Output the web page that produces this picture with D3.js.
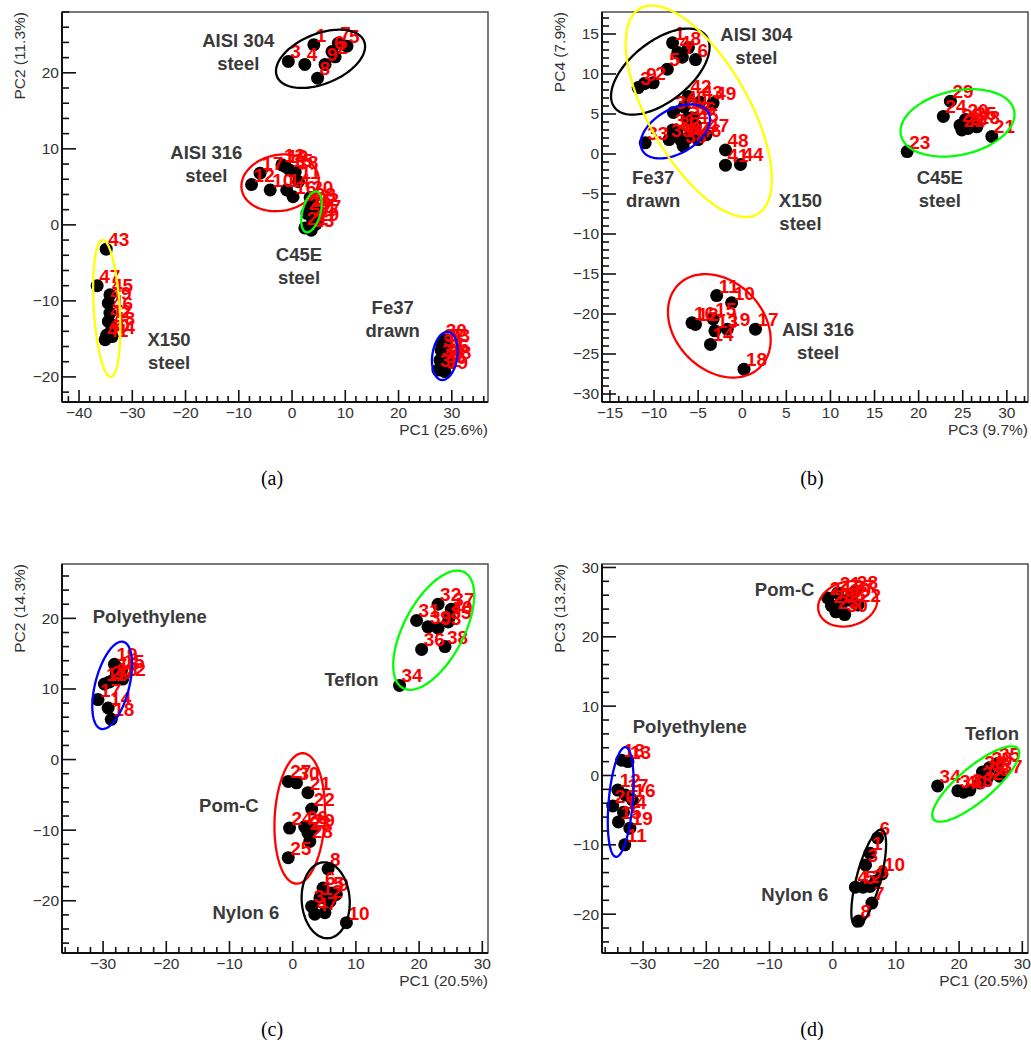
<!DOCTYPE html>
<html lang="en">
<head>
<meta charset="UTF-8">
<title>PCA score plots</title>
<script src="https://d3js.org/d3.v7.min.js"></script>
<style>
  body { margin: 0; background: #fff; }
  svg { display: block; }
  .tick-label { font: 15.5px "Liberation Sans", Arial, sans-serif; fill: #333; }
  .axis-title { font: 15.5px "Liberation Sans", Arial, sans-serif; fill: #333; }
  .group-name { font: bold 18.5px "Liberation Sans", Arial, sans-serif; fill: #3a3a3a; }
  .pt-label { font: bold 19px "Liberation Sans", Arial, sans-serif; fill: #ff0000; }
  .sub-label { font: 20px "Liberation Serif", "DejaVu Serif", serif; fill: #000; }
</style>
</head>
<body>
<div id="chart"></div>
<script>
// points are [x, y, sample number]

// (a) PC1 vs PC2, steels
const a_aisi304 = [[-0.7,21.5,"3"],[2.4,21.1,"4"],[4.1,23.7,"1"],[4.8,19.3,"8"],[6.2,21.1,"9"],[8.1,22.1,"2"],[8.7,23.9,"7"],[10.3,23.5,"5"],[7.5,22.8,"6"]];
const a_aisi316 = [[-7.6,5.3,"12"],[-6.0,6.8,"17"],[-4.1,4.6,"10"],[-1.9,7.9,"13"],[-1.3,7.7,"19"],[-0.4,7.2,"15"],[0.6,7.0,"18"],[-1.0,4.6,"14"],[0.2,3.7,"16"],[1.2,5.7,"11"]];
const a_c45e = [[3.4,3.6,"20"],[3.9,2.8,"28"],[4.5,2.1,"22"],[2.8,1.5,"26"],[3.8,0.8,"24"],[4.5,0.1,"29"],[2.4,-0.4,"21"],[3.2,2.0,"25"],[4.9,1.2,"27"],[3.6,-0.7,"23"]];
const a_x150 = [[-34.9,-3.2,"43"],[-36.6,-8.0,"47"],[-34.2,-9.2,"45"],[-34.5,-10.3,"49"],[-34.2,-11.6,"46"],[-34.5,-12.7,"42"],[-33.8,-13.6,"48"],[-34.8,-14.5,"40"],[-35.1,-15.1,"41"],[-33.8,-14.7,"44"]];
const a_fe37 = [[28.5,-15.1,"30"],[29.1,-15.8,"33"],[28.0,-16.5,"31"],[28.9,-17.1,"36"],[27.8,-17.8,"34"],[29.3,-18.0,"38"],[28.3,-18.6,"35"],[27.4,-19.1,"32"],[28.7,-19.3,"39"],[28.1,-15.8,"37"]];

// (b) PC3 vs PC4, steels
const b_aisi304 = [[-11.8,8.3,"3"],[-11.1,8.8,"9"],[-10.1,8.9,"2"],[-8.5,10.6,"5"],[-7.9,13.9,"1"],[-7.3,12.7,"4"],[-6.8,12.1,"7"],[-5.3,11.8,"6"],[-6.1,13.3,"8"]];
const b_aisi316 = [[-2.9,-17.7,"11"],[-1.2,-18.6,"10"],[-5.7,-21.1,"16"],[-5.3,-21.3,"12"],[-3.3,-20.6,"15"],[-3.1,-22.1,"13"],[-1.7,-21.9,"19"],[-3.6,-23.8,"14"],[1.5,-21.9,"17"],[0.2,-26.9,"18"]];
const b_c45e = [[18.7,0.3,"23"],[22.8,4.7,"24"],[23.6,6.6,"29"],[24.7,3.6,"26"],[25.3,4.3,"20"],[25.6,3.2,"27"],[26.2,3.9,"25"],[24.9,3.0,"22"],[28.3,2.2,"21"],[26.6,3.4,"28"]];
const b_x150 = [[-6.6,5.9,"40"],[-1.9,-1.4,"41"],[-6.1,7.2,"42"],[-4.8,6.5,"43"],[-0.2,-1.3,"44"],[-5.3,3.6,"45"],[-5.0,1.8,"46"],[-4.1,2.4,"47"],[-1.9,0.5,"48"],[-3.3,6.4,"49"]];
const b_fe37 = [[-7.8,5.2,"30"],[-7.9,3.0,"31"],[-7.4,2.6,"32"],[-11.0,1.4,"33"],[-7.0,1.8,"34"],[-6.2,4.5,"35"],[-5.6,4.5,"36"],[-6.2,2.0,"37"],[-6.7,1.0,"38"],[-8.3,1.8,"39"]];

// (c) PC1 vs PC2, polymers
const c_nylon = [[5.6,-15.5,"8"],[4.8,-18.2,"6"],[6.1,-18.9,"5"],[6.9,-19.1,"9"],[5.9,-20.1,"2"],[3.0,-20.8,"3"],[3.5,-21.9,"4"],[5.1,-21.7,"7"],[8.5,-23.1,"10"],[4.3,-19.6,"1"]];
const c_poly = [[-30.8,8.5,"17"],[-29.2,7.3,"14"],[-28.7,5.7,"18"],[-29.8,10.7,"11"],[-29.0,11.0,"20"],[-28.2,13.5,"19"],[-27.9,12.3,"16"],[-27.1,12.6,"15"],[-28.2,11.4,"13"],[-26.9,11.4,"12"]];
const c_pomc = [[-0.7,-3.1,"27"],[0.6,-3.3,"30"],[2.4,-4.7,"21"],[3.0,-7.0,"22"],[-0.5,-9.7,"24"],[1.9,-9.5,"26"],[2.4,-10.4,"23"],[2.7,-11.6,"28"],[-0.7,-13.9,"25"],[3.0,-10.0,"29"]];
const c_teflon = [[16.9,10.5,"34"],[20.4,15.6,"36"],[19.6,19.7,"31"],[21.4,18.8,"39"],[23.0,18.6,"33"],[23.0,22.0,"32"],[24.1,16.0,"38"],[24.6,19.5,"35"],[25.1,21.3,"37"],[24.8,20.2,"40"]];

// (d) PC1 vs PC3, polymers
const d_nylon = [[7.1,-9.0,"6"],[5.9,-11.2,"1"],[5.2,-12.9,"3"],[7.8,-14.2,"10"],[3.6,-16.1,"4"],[4.8,-16.1,"5"],[5.9,-16.0,"2"],[6.8,-15.2,"9"],[6.2,-18.4,"7"],[4.1,-21.0,"8"]];
const d_poly = [[-33.4,2.2,"18"],[-32.4,2.0,"13"],[-34.0,-2.1,"12"],[-32.8,-2.8,"17"],[-31.7,-3.5,"16"],[-34.8,-4.4,"20"],[-33.1,-5.3,"14"],[-32.1,-7.6,"19"],[-32.9,-10.0,"11"],[-33.9,-6.7,"15"]];
const d_pomc = [[-0.8,25.6,"24"],[-0.2,24.5,"25"],[0.5,23.6,"23"],[1.4,24.8,"26"],[2.4,25.3,"29"],[3.0,25.9,"27"],[3.5,26.5,"28"],[1.9,23.2,"30"],[4.0,24.6,"22"],[0.8,26.3,"21"]];
const d_teflon = [[16.6,-1.5,"34"],[19.8,-2.2,"31"],[20.7,-2.4,"40"],[21.7,-2.1,"33"],[23.7,0.5,"36"],[24.4,-0.5,"38"],[24.8,1.1,"39"],[26.0,1.7,"35"],[26.4,-0.1,"37"],[23.3,-1.1,"32"]];

// confidence ellipses: [group, cx, cy, ux, uy, vx, vy] (centre + two conjugate half-axes)
const a_rings = [["AISI 304",5.35,21.84,8.18,2.32,1.76,-3.05],["AISI 316",-2.25,5.53,7.2,0.89,0.91,-3.63],["C45E",3.66,1.71,1.02,2.67,1.63,-0.31],["X150",-34.8,-10.99,-0.75,9.01,2.44,0],["Fe37",28.7,-17.24,0.66,3.16,2.33,-0.24]];
const b_rings = [["AISI 304",-9.29,10.3,5.18,4.49,2.09,-2.97],["Fe37",-7.59,2.83,3.73,2.39,1.25,-2.39],["X150",-4.93,5.34,6.68,-12.84,-4.9,-3.14],["C45E",24.41,3.89,6.42,1.52,0.75,-3.93],["AISI 316",-2.6,-21.48,4.64,-5.15,-3.52,-3.91]];
const c_rings = [["Polyethylene",-28.56,10.51,1.76,6.16,2.61,-0.57],["Teflon",22.31,18.32,4.81,8.23,4.23,-1.88],["Pom-C",1.11,-8.34,0.55,9.24,3.96,-0.18],["Nylon 6",5.22,-19.93,-0.24,5.38,3.8,0]];
const d_rings = [["Pom-C",2.37,24.75,4.59,1.13,0.9,-3.07],["Polyethylene",-33.54,-3.82,0.76,7.91,1.9,-0.15],["Teflon",22.63,-1.23,6.66,5.1,1.73,-1.88],["Nylon 6",5.7,-14.79,2.04,6.97,1.84,-0.45]];

// tick labels
const a_xTicks = [-40,-30,-20,-10,0,10,20,30], a_yTicks = [-20,-10,0,10,20];
const b_xTicks = [-15,-10,-5,0,5,10,15,20,25,30], b_yTicks = [-30,-25,-20,-15,-10,-5,0,5,10,15];
const c_xTicks = [-30,-20,-10,0,10,20,30], c_yTicks = [-20,-10,0,10,20];
const d_xTicks = [-30,-20,-10,0,10,20,30], d_yTicks = [-20,-10,0,10,20,30];

const ringColor = {"AISI 304":"#000","AISI 316":"#ff0000","C45E":"#00ff00","X150":"#ffff00","Fe37":"#0000ff",
  "Polyethylene":"#0000ff","Teflon":"#00ff00","Pom-C":"#ff0000","Nylon 6":"#000"};

const panels = [
  {sub:"(a)", box:[62,12,488,402], xDom:[-43.2,36.8], yDom:[-23.3,28.0], xStep:[10,2], yStep:[10,2],
   xTicks:a_xTicks, yTicks:a_yTicks, xTitle:"PC1 (25.6%)", yTitle:"PC2 (11.3%)",
   groups:[a_aisi304,a_aisi316,a_c45e,a_x150,a_fe37], rings:a_rings,
   names:[["AISI 304","steel",-10.1,24.3],["AISI 316","steel",-16.1,9.5],["C45E","steel",1.3,-3.9],["X150","steel",-23.1,-15.1],["Fe37","drawn",18.9,-10.9]]},
  {sub:"(b)", box:[602,12,1028,402], xDom:[-15.9,32.4], yDom:[-31,17.75], xStep:[5,1], yStep:[5,1],
   xTicks:b_xTicks, yTicks:b_yTicks, xTitle:"PC3 (9.7%)", yTitle:"PC4 (7.9%)",
   groups:[b_aisi304,b_aisi316,b_c45e,b_x150,b_fe37], rings:b_rings,
   names:[["AISI 304","steel",1.6,14.9],["Fe37","drawn",-10.1,-2.9],["X150","steel",6.6,-5.8],["C45E","steel",22.4,-2.9],["AISI 316","steel",8.6,-21.9]]},
  {sub:"(c)", box:[62,564,488,953], xDom:[-36.5,30.9], yDom:[-27.4,27.7], xStep:[10,2], yStep:[10,2],
   xTicks:c_xTicks, yTicks:c_yTicks, xTitle:"PC1 (20.5%)", yTitle:"PC2 (14.3%)",
   groups:[c_nylon,c_poly,c_pomc,c_teflon], rings:c_rings,
   names:[["Polyethylene",null,-22.6,20.2],["Teflon",null,9.3,11.4],["Pom-C",null,-10.1,-6.55],["Nylon 6",null,-7.4,-21.7]]},
  {sub:"(d)", box:[602,564,1028,953], xDom:[-36.5,30.9], yDom:[-25.6,30.5], xStep:[10,2], yStep:[10,2],
   xTicks:d_xTicks, yTicks:d_yTicks, xTitle:"PC1 (20.5%)", yTitle:"PC3 (13.2%)",
   groups:[d_nylon,d_poly,d_pomc,d_teflon], rings:d_rings,
   names:[["Pom-C",null,-7.6,26.8],["Polyethylene",null,-22.6,7.1],["Teflon",null,25.2,6.1],["Nylon 6",null,-6.0,-17.2]]}
];

const W = 1031, H = 1040;
const svg = d3.select("#chart").append("svg").attr("width", W).attr("height", H);
const minus = v => String(v).replace("-", "\u2212");

function stepsIn(dom, step) {
  const out = [];
  for (let v = Math.ceil(dom[0] / step) * step; v <= dom[1] + 1e-9; v += step) out.push(+v.toFixed(6));
  return out;
}

panels.forEach(p => {
  const [x0, y0, x1, y1] = p.box;
  const sx = d3.scaleLinear().domain(p.xDom).range([x0, x1]);
  const sy = d3.scaleLinear().domain(p.yDom).range([y1, y0]);
  const g = svg.append("g");

  // frame
  g.append("rect").attr("x", x0).attr("y", y0).attr("width", x1 - x0).attr("height", y1 - y0)
    .attr("fill", "none").attr("stroke", "#333").attr("stroke-width", 1.3);
  g.append("line").attr("x1", x0).attr("x2", x0).attr("y1", y0).attr("y2", y1).attr("stroke", "#111").attr("stroke-width", 2);
  g.append("line").attr("x1", x0).attr("x2", x1).attr("y1", y1).attr("y2", y1).attr("stroke", "#111").attr("stroke-width", 2);

  // ticks (ROOT style, inside the frame)
  const xMaj = stepsIn(p.xDom, p.xStep[0]);
  const xMin = stepsIn(p.xDom, p.xStep[1]).filter(v => !xMaj.includes(v));
  const yMaj = stepsIn(p.yDom, p.yStep[0]);
  const yMin = stepsIn(p.yDom, p.yStep[1]).filter(v => !yMaj.includes(v));
  const tk = g.append("g").attr("stroke", "#111").attr("stroke-width", 1.6);
  xMaj.forEach(v => tk.append("line").attr("x1", sx(v)).attr("x2", sx(v)).attr("y1", y1).attr("y2", y1 - 12));
  xMin.forEach(v => tk.append("line").attr("x1", sx(v)).attr("x2", sx(v)).attr("y1", y1).attr("y2", y1 - 6));
  yMaj.forEach(v => tk.append("line").attr("y1", sy(v)).attr("y2", sy(v)).attr("x1", x0).attr("x2", x0 + 14));
  yMin.forEach(v => tk.append("line").attr("y1", sy(v)).attr("y2", sy(v)).attr("x1", x0).attr("x2", x0 + 7));

  g.selectAll(".xl").data(p.xTicks).enter().append("text").attr("class", "tick-label")
    .attr("x", d => sx(d)).attr("y", y1 + 16).attr("text-anchor", "middle").text(minus);
  g.selectAll(".yl").data(p.yTicks).enter().append("text").attr("class", "tick-label")
    .attr("x", x0 - 3).attr("y", d => sy(d)).attr("dy", "0.35em").attr("text-anchor", "end").text(minus);

  g.append("text").attr("class", "axis-title").attr("x", x1).attr("y", y1 + 33)
    .attr("text-anchor", "end").text(p.xTitle);
  g.append("text").attr("class", "axis-title").attr("text-anchor", "end")
    .attr("transform", `translate(${x0 - 42},${y0}) rotate(-90)`).attr("dy", "0.35em").text(p.yTitle);

  // points, then sample numbers
  const pts = p.groups.flat();
  g.selectAll(".pt").data(pts).enter().append("circle")
    .attr("cx", d => sx(d[0])).attr("cy", d => sy(d[1])).attr("r", 6.5).attr("fill", "#000");
  g.selectAll(".pl").data(pts).enter().append("text").attr("class", "pt-label")
    .attr("x", d => sx(d[0]) + 2).attr("y", d => sy(d[1]) - 3).text(d => d[2]);

  // confidence ellipses
  const line = d3.line().curve(d3.curveLinearClosed);
  p.rings.forEach(e => {
    const path = d3.range(0, 360, 3).map(t => {
      const r = t * Math.PI / 180;
      return [sx(e[1] + e[3] * Math.cos(r) + e[5] * Math.sin(r)), sy(e[2] + e[4] * Math.cos(r) + e[6] * Math.sin(r))];
    });
    g.append("path").attr("d", line(path)).attr("fill", "none")
      .attr("stroke", ringColor[e[0]]).attr("stroke-width", 2.3);
  });

  // group names
  p.names.forEach(n => {
    g.append("text").attr("class", "group-name").attr("text-anchor", "middle")
      .attr("x", sx(n[2])).attr("y", sy(n[3])).attr("dy", "0.35em").text(n[0]);
    if (n[1]) g.append("text").attr("class", "group-name").attr("text-anchor", "middle")
      .attr("x", sx(n[2])).attr("y", sy(n[3]) + 23).attr("dy", "0.35em").text(n[1]);
  });

  g.append("text").attr("class", "sub-label").attr("text-anchor", "middle")
    .attr("x", (x0 + x1) / 2 - 3).attr("y", y1 + 76).attr("dy", "0.35em").text(p.sub);
});
</script>
</body>
</html>
